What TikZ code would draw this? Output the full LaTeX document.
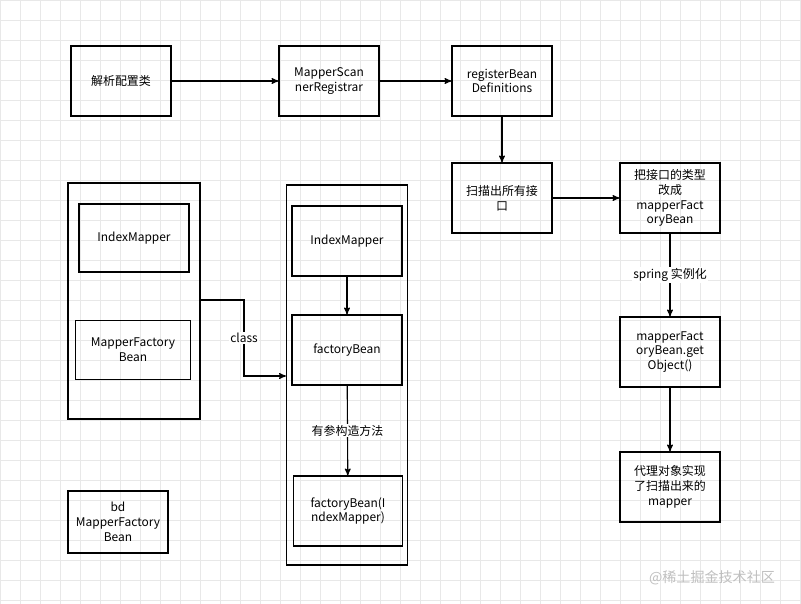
\documentclass[tikz,border=0pt]{standalone}
\usepackage{fontspec}
\setmainfont{Noto Sans CJK SC}
\usetikzlibrary{arrows,positioning}
\tikzset{
    every picture/.style={
        x=0.025cm,y=-0.025cm,semithick,>=stealth',
        box/.style={draw,thick,minimum width=2.5cm,minimum height=1.75cm,align=center,
                    font=\fontsize{8.5}{10.5}\selectfont,text width=2.2cm},
        frame/.style={draw,thick},
        lbl/.style={fill=white,font=\fontsize{8.5}{10.5}\selectfont,inner sep=1pt}
    }
}

\begin{document}
\begin{tikzpicture}
    \useasboundingbox (0,0) rectangle (801,604);
    \fill[white] (0,0) rectangle (801,604);
    \draw[gray!18,thin,step=0.5cm] (0,0) grid (801,604);
    % top row
    \node[box] (cfg)  at (121,81)  {解析配置类};
    \node[box] (reg)  at (329,81)  {MapperScan\\nerRegistrar};
    \node[box] (defs) at (502,81)  {registerBean\\Definitions};
    \node[box] (scan) at (502,198) {扫描出所有接\\口};
    \node[box] (chg)  at (670,198) {把接口的类型\\改成\\mapperFact\\oryBean};
    \node[box] (get)  at (670,352) {mapperFact\\oryBean.get\\Object()};
    \node[box] (prox) at (670,487) {代理对象实现\\了扫描出来的\\mapper};
    % left container
    \node[frame,minimum width=3.3cm,minimum height=5.9cm] (bdl) at (134,301) {};
    \node[box,minimum width=2.75cm,minimum height=1.7cm,text width=2.5cm] (imL) at (134,238) {IndexMapper};
    \node[box,minimum width=2.875cm,minimum height=1.475cm,text width=2.6cm] (mfb) at (133,350) {MapperFactory\\Bean};
    \node[box,minimum height=1.55cm] (bd) at (118,522) {bd\\MapperFactory\\Bean};
    % right container
    \node[frame,minimum width=3.025cm,minimum height=9.5cm] (bdr) at (347,375) {};
    \node[box,minimum width=2.75cm,text width=2.5cm] (imR) at (347,241) {IndexMapper};
    \node[box,minimum width=2.75cm,text width=2.5cm] (fb)  at (347,350) {factoryBean};
    \node[box,minimum width=2.6cm,text width=2.5cm] (fbi) at (348,511) {factoryBean(I\\ndexMapper)};
    \coordinate (c1) at (244,300);
    \coordinate (c2) at (244,376);
    % connectors
    \path[->,thick] (cfg) edge (reg)
                    (reg) edge (defs)
                    (defs) edge (scan)
                    (scan) edge (chg)
                    (chg) edge node[lbl] {spring 实例化} (get)
                    (get) edge (prox)
                    (imR) edge (fb)
                    (fb) edge node[lbl] {有参构造方法} (fbi);
    \draw[->,thick] (bdl.east |- c1) -- (c1) -- node[lbl] {class} (c2) -- (c2 -| bdr.west);
    \node[text=gray!50,font=\fontsize{10}{12}\selectfont] (wm) at (712,578) {@稀土掘金技术社区};
\end{tikzpicture}
\end{document}
